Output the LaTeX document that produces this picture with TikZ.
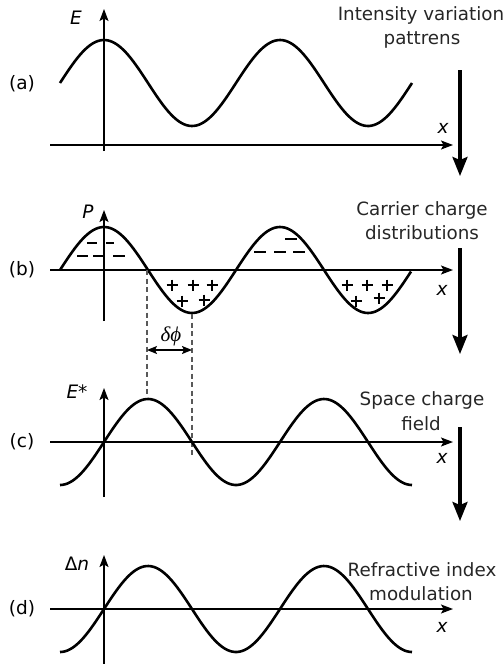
\documentclass[tikz,border=0pt]{standalone}
\usepackage{fontspec}
\setmainfont{DejaVu Sans}
\newfontfamily\grkserif{Liberation Serif}
\usetikzlibrary{arrows.meta}
\begin{document}
\begin{tikzpicture}[x=1pt,y=-1pt,
  axis/.style={line width=1.3pt,-{Stealth[length=12pt,width=9pt,inset=2.5pt]}},
  wave/.style={line width=2.6pt,smooth,samples=140},
  bigarrow/.style={line width=3.2pt,-{Stealth[length=19pt,width=15pt,inset=3pt]}},
  chg/.style={line width=2.2pt},
  plusmark/.style={line width=1.1pt},
  guide/.style={line width=1.2pt,dash pattern=on 5pt off 3.5pt,black!65},
  lbl/.style={font=\fontsize{18.5}{22}\selectfont,inner sep=0pt},
  ilbl/.style={font=\fontsize{18.5}{22}\selectfont\itshape,inner sep=0pt},
  ttl/.style={font=\fontsize{18.3}{22}\selectfont,inner sep=0pt,anchor=base,text=black!85},
  dbl/.style={line width=1.4pt,{Stealth[length=10pt,width=8pt,inset=2pt]}-{Stealth[length=10pt,width=8pt,inset=2pt]}},
]
\useasboundingbox (0,0) rectangle (503,664);

% ---------- panel (a)
\coordinate (ahs) at (50,145); \coordinate (ahe) at (453,145);
\coordinate (avs) at (104,151); \coordinate (ave) at (104,9);
\draw[axis] (ahs) -- (ahe);
\draw[axis] (avs) -- (ave);
\draw[wave,domain=60:412] plot (\x,{83-43*cos((\x-104)/176*360)});
\node[ilbl] (Ea) at (76,18) {E};
\node[ilbl] (xa) at (443,128) {x};
\node[lbl] (la) at (22,84) {(a)};
\node[ttl] (ta1) at (421,20) {Intensity variation};
\node[ttl] (ta2) at (422,44) {pattrens};
\coordinate (ba1) at (460,70); \coordinate (ba2) at (460,176);
\draw[bigarrow] (ba1) -- (ba2);

% ---------- panel (b)
\coordinate (bhs) at (50,270); \coordinate (bhe) at (453,270);
\coordinate (bvs) at (104,321); \coordinate (bve) at (104,210);
\draw[axis] (bhs) -- (bhe);
\draw[axis] (bvs) -- (bve);
\draw[wave,domain=60:411] plot (\x,{270-43*cos((\x-104)/176*360)});
\node[ilbl] (Pb) at (88,212) {P};
\node[ilbl] (xb) at (442,290) {x};
\node[lbl] (lb) at (22,270) {(b)};
\node[ttl] (tb1) at (422,215) {Carrier charge};
\node[ttl] (tb2) at (422,239) {distributions};
\coordinate (bb1) at (460,248); \coordinate (bb2) at (460,354);
\draw[bigarrow] (bb1) -- (bb2);
% negative charges
\draw[chg] (87,243) -- (97,243) (106,243) -- (114,243);
\draw[chg] (77,256) -- (88,256) (93,256) -- (105,256) (113,256) -- (125,256);
\draw[chg] (285,239) -- (297,239);
\draw[chg] (254,252) -- (266,252) (274,252) -- (286,252) (293,252) -- (305,252);
% positive charges
\foreach \px/\py in {172/285,193/285,212/285,182/301,204/300,347/285,367/285,387/285,356/301,379/298}
  \draw[plusmark] (\px-5.5,\py) -- (\px+5.5,\py) (\px,\py-5.5) -- (\px,\py+5.5);

% ---------- phase shift guides
\coordinate (g1t) at (147,270); \coordinate (g1b) at (147,398);
\coordinate (g2t) at (192,314); \coordinate (g2b) at (192,458);
\draw[guide] (g1t) -- (g1b);
\draw[guide] (g2t) -- (g2b);
\coordinate (d1) at (147,350); \coordinate (d2) at (192,350);
\draw[dbl] (d1) -- (d2);
\node[inner sep=0pt,font=\fontsize{21}{24}\selectfont\grkserif\itshape] (dphi) at (171,336) {δϕ};

% ---------- panel (c)
\coordinate (chs) at (50,442); \coordinate (che) at (453,442);
\coordinate (cvs) at (104,497); \coordinate (cve) at (104,388);
\draw[axis] (chs) -- (che);
\draw[axis] (cvs) -- (cve);
\draw[wave,domain=60:412] plot (\x,{442-43*sin((\x-104)/176*360)});
\node[lbl] (Ec) at (77,392) {{\itshape E}*};
\node[ilbl] (xc) at (442,458) {x};
\node[lbl] (lc) at (22,442) {(c)};
\node[ttl] (tc1) at (422,405) {Space charge};
\node[ttl] (tc2) at (421,430) {field};
\coordinate (bc1) at (460,427); \coordinate (bc2) at (460,521);
\draw[bigarrow] (bc1) -- (bc2);

% ---------- panel (d)
\coordinate (dhs) at (50,609); \coordinate (dhe) at (453,609);
\coordinate (dvs) at (104,664); \coordinate (dve) at (104,555);
\draw[axis] (dhs) -- (dhe);
\draw[axis] (dvs) -- (dve);
\draw[wave,domain=60:412] plot (\x,{609-43*sin((\x-104)/176*360)});
\node[lbl] (Dn) at (77,564) {Δ{\itshape n}};
\node[ilbl] (xd) at (442,627) {x};
\node[lbl] (ld) at (22,609) {(d)};
\node[ttl] (td1) at (422,576) {Refractive index};
\node[ttl] (td2) at (421,600) {modulation};
\end{tikzpicture}
\end{document}
